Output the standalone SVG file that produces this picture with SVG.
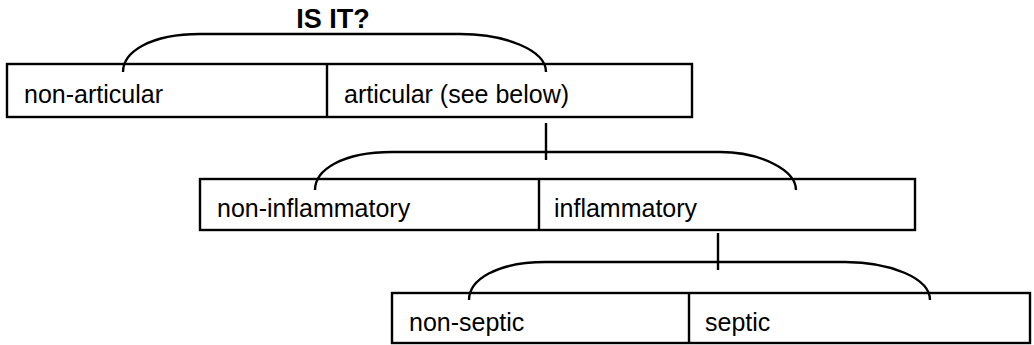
<svg xmlns="http://www.w3.org/2000/svg" width="1034" height="345" viewBox="0 0 1034 345">
<style>
.box{fill:#fff;stroke:#000;stroke-width:2.4}
.div{stroke:#000;stroke-width:2.4}
.lbl{font-family:"Liberation Sans",Arial,sans-serif;font-size:25px;fill:#000}
.ttl{font-family:"Liberation Sans",Arial,sans-serif;font-size:27px;font-weight:bold;fill:#000}
.con{fill:none;stroke:#000;stroke-width:2.4}
</style>
<rect width="1034" height="345" fill="#fff"/>
<text class="ttl" x="333" y="28" text-anchor="middle">IS IT?</text>
<g id="box1">
<rect class="box" x="7" y="64" width="685" height="53"/>
<line class="div" x1="327" y1="64" x2="327" y2="117"/>
<text class="lbl" x="24" y="103">non-articular</text>
<text class="lbl" x="344" y="103">articular (see below)</text>
</g>
<g id="box2">
<rect class="box" x="200" y="179" width="715" height="51"/>
<line class="div" x1="539" y1="179" x2="539" y2="230"/>
<text class="lbl" x="217" y="217">non-inflammatory</text>
<text class="lbl" x="554" y="217">inflammatory</text>
</g>
<g id="box3">
<rect class="box" x="392" y="293" width="638" height="50"/>
<line class="div" x1="689" y1="293" x2="689" y2="343"/>
<text class="lbl" x="409" y="331">non-septic</text>
<text class="lbl" x="705" y="331">septic</text>
</g>
<g id="connectors">
<path class="con" d="M123,72 C123,52 150,34 200,34 L460,34 C505,34 546,50 546,72"/>
<line class="con" x1="546" y1="123" x2="546" y2="160"/>
<path class="con" d="M315,190 C315,170 342,152 392,152 L720,152 C760,152 796,170 796,190"/>
<line class="con" x1="718" y1="233" x2="718" y2="270"/>
<path class="con" d="M469,300 C469,280 496,262 546,262 L845,262 C890,262 930,278 930,300"/>
</g>
</svg>
